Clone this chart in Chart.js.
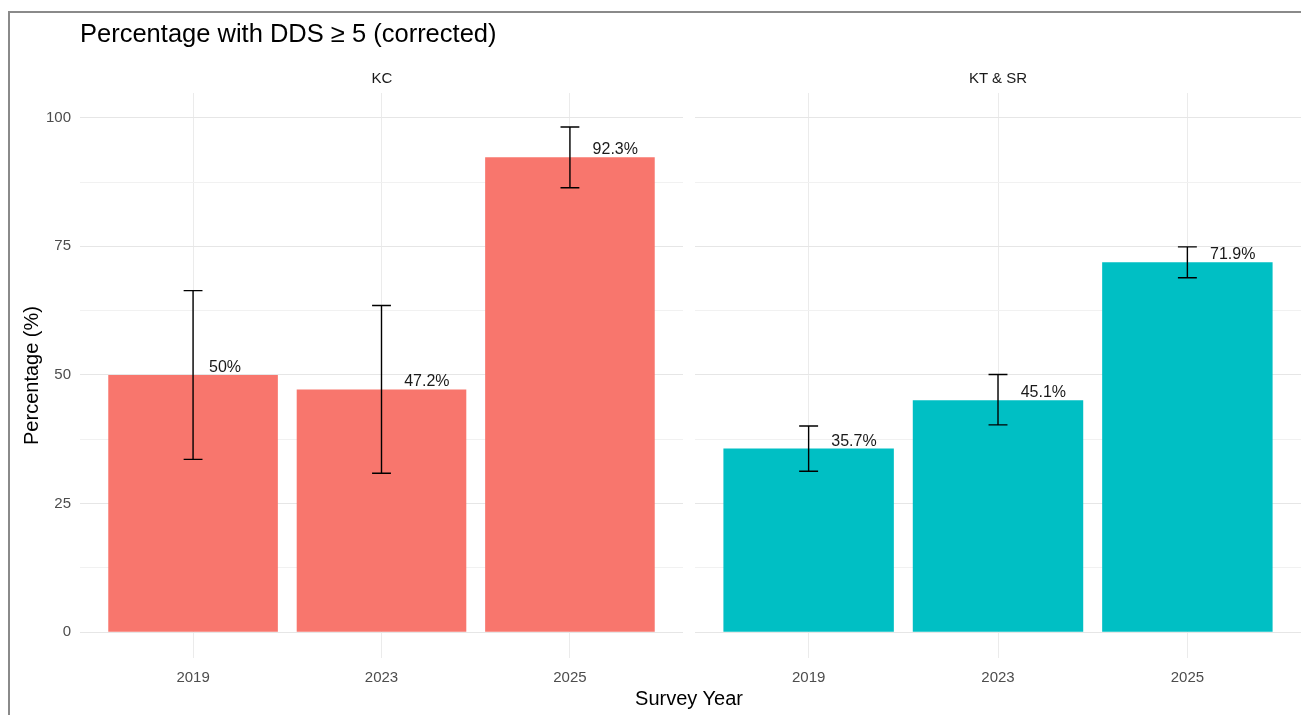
<!DOCTYPE html>
<html>
<head>
<meta charset="utf-8">
<script src="https://cdn.jsdelivr.net/npm/chart.js@4/dist/chart.umd.min.js"></script>
<style>
  html, body { margin: 0; padding: 0; background: #fff; }
  body { width: 1301px; height: 715px; position: relative; overflow: hidden; font-family: "Liberation Sans", Arial, sans-serif; }
  .frame { position: absolute; left: 8px; top: 11px; width: 1400px; height: 800px; border-left: 2px solid #8a8a8a; border-top: 2px solid #8a8a8a; }
  .txt { position: absolute; white-space: nowrap; color: #000; }
  #title { left: 80px; top: 19px; font-size: 25.5px; }
  .strip { top: 69px; font-size: 15px; color: #1a1a1a; transform: translateX(-50%); }
  #xtitle { left: 689px; top: 687px; font-size: 20px; transform: translateX(-50%); }
  #left { position: absolute; left: 0; top: 0; }
  #right { position: absolute; left: 695px; top: 0; }
</style>
</head>
<body>
<div class="frame"></div>
<canvas id="left" width="684" height="715"></canvas>
<canvas id="right" width="606" height="715"></canvas>
<div class="txt" id="title">Percentage with DDS ≥ 5 (corrected)</div>
<div class="txt strip" style="left:382px">KC</div>
<div class="txt strip" style="left:998px">KT &amp; SR</div>
<div class="txt" id="xtitle">Survey Year</div>
<script>
const years = ['2019', '2023', '2025'];
const panels = ['KC', 'KT & SR'];

// percentage with DDS >= 5 and 95% CI, per survey year
const kcPct = [50, 47.2, 92.3];
const kcLow = [33.6, 30.9, 86.4];
const kcHigh = [66.4, 63.5, 98.2];

const ktPct = [35.7, 45.1, 71.9];
const ktLow = [31.3, 40.3, 68.9];
const ktHigh = [40.1, 50.1, 74.9];

const yTicks = [0, 12.5, 25, 37.5, 50, 62.5, 75, 87.5, 100];

// error bars + value labels on top of the bars
const barExtras = {
  id: 'barExtras',
  afterDatasetsDraw(chart) {
    const ds = chart.data.datasets[0];
    const xs = chart.scales.x, ys = chart.scales.y;
    const ctx = chart.ctx;
    ctx.save();
    ctx.strokeStyle = '#000';
    ctx.lineWidth = 1.4;
    ds.data.forEach((p, i) => {
      const x = xs.getPixelForValue(p.x);
      const cap = xs.getPixelForValue(p.x + 0.05) - x;
      const yl = ys.getPixelForValue(ds.low[i]);
      const yh = ys.getPixelForValue(ds.high[i]);
      ctx.beginPath();
      ctx.moveTo(x, yl); ctx.lineTo(x, yh);
      ctx.moveTo(x - cap, yl); ctx.lineTo(x + cap, yl);
      ctx.moveTo(x - cap, yh); ctx.lineTo(x + cap, yh);
      ctx.stroke();
    });
    ctx.font = '16px "Liberation Sans", Arial, sans-serif';
    ctx.fillStyle = '#1a1a1a';
    ctx.textAlign = 'left';
    ctx.textBaseline = 'alphabetic';
    ds.data.forEach((p, i) => {
      const s = p.y + '%';
      const w = ctx.measureText(s).width;
      const x = xs.getPixelForValue(p.x);
      const y = ys.getPixelForValue(p.y);
      ctx.fillText(s, x + w / 2, y - 3);
    });
    ctx.restore();
  }
};

function makePanel(id, pct, low, high, color, showY) {
  new Chart(document.getElementById(id), {
    type: 'bar',
    data: {
      datasets: [{
        label: id,
        data: pct.map((v, i) => ({ x: i + 1, y: v })),
        low: low,
        high: high,
        backgroundColor: color,
        borderWidth: 0,
        barPercentage: 0.9,
        categoryPercentage: 1
      }]
    },
    options: {
      responsive: false,
      animation: false,
      layout: { padding: { top: 93, right: showY ? 1 : 0, bottom: 0, left: 0 } },
      plugins: { legend: { display: false }, tooltip: { enabled: false } },
      scales: {
        x: {
          type: 'linear',
          min: 0.4,
          max: 3.6,
          offset: false,
          afterBuildTicks: s => { s.ticks = [1, 2, 3].map(v => ({ value: v })); },
          afterFit: s => { s.height = 57; },
          grid: { color: '#ebebeb', lineWidth: 1, drawTicks: false, offset: false },
          border: { display: false },
          ticks: {
            padding: 11,
            color: '#4d4d4d',
            font: { size: 15, family: '"Liberation Sans", Arial, sans-serif' },
            callback: v => years[v - 1]
          }
        },
        y: {
          min: -5,
          max: 104.8,
          afterBuildTicks: s => { s.ticks = yTicks.map(v => ({ value: v })); },
          afterFit: s => { s.width = showY ? 80 : 0; },
          grid: {
            drawTicks: false,
            color: c => (c.tick && c.tick.value % 25 === 0) ? '#e6e6e6' : '#f1f1f1',
            lineWidth: 1
          },
          border: { display: false },
          ticks: {
            display: showY,
            padding: 9,
            color: '#4d4d4d',
            font: { size: 15, family: '"Liberation Sans", Arial, sans-serif' },
            callback: v => (v % 25 === 0 ? v : '')
          },
          title: {
            display: showY,
            text: 'Percentage (%)',
            color: '#000',
            font: { size: 20, family: '"Liberation Sans", Arial, sans-serif' },
            padding: { top: 20, bottom: 0 }
          }
        }
      }
    },
    plugins: [barExtras]
  });
}

makePanel('left', kcPct, kcLow, kcHigh, '#F8766D', true);
makePanel('right', ktPct, ktLow, ktHigh, '#00BFC4', false);
</script>
</body>
</html>
